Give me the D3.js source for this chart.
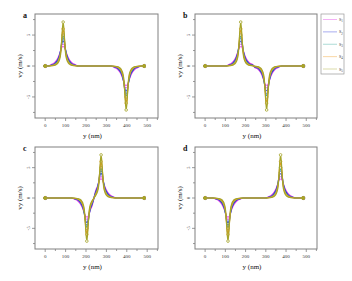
<!DOCTYPE html>
<html>
<head>
<meta charset="utf-8">
<script src="https://cdn.jsdelivr.net/npm/d3@7"></script>
<style>
  body { margin: 0; background: #fff; }
  svg { display: block; }
  text { font-family: "Liberation Serif", "DejaVu Serif", serif; }
</style>
</head>
<body>
<svg id="chart" width="352" height="281"></svg>
<script>
// peak profile: offsets from peak centre (nm) and vy values (m/s) per series
const offsets = [-75, -60, -45, -35, -25, -18, -12, -8, -4, 0, 4, 8, 12, 18, 25, 35, 45, 60, 75];
const s1 = [0, 0.2, 0.45, 0.8, 1.35, 1.9, 2.5, 2.9, 3.2, 3.3, 3.2, 2.9, 2.5, 1.9, 1.35, 0.8, 0.45, 0.2, 0];
const s2 = [0, 0.12, 0.3, 0.6, 1.1, 1.7, 2.6, 3.4, 4.0, 4.2, 4.0, 3.4, 2.6, 1.7, 1.1, 0.6, 0.3, 0.12, 0];
const s3 = [0, 0.08, 0.2, 0.45, 0.9, 1.5, 2.5, 3.6, 4.6, 5.0, 4.6, 3.6, 2.5, 1.5, 0.9, 0.45, 0.2, 0.08, 0];
const s4 = [0, 0.05, 0.14, 0.32, 0.7, 1.3, 2.3, 3.8, 5.3, 6.0, 5.3, 3.8, 2.3, 1.3, 0.7, 0.32, 0.14, 0.05, 0];
const s5 = [0, 0.03, 0.08, 0.2, 0.5, 1.0, 2.0, 3.7, 5.9, 7.1, 5.9, 3.7, 2.0, 1.0, 0.5, 0.2, 0.08, 0.03, 0];
const profiles = [s1, s2, s3, s4, s5];
const seriesNames = ["1", "2", "3", "4", "5"];

// line end points (nm), vy = 0
const baseGrid = [0, 485];

// panels
const panelLabels = ["a", "b", "c", "d"];
const posPeak = [88, 176, 274, 373];
const negPeak = [397, 304, 204, 113];

const xTicks = [0, 100, 200, 300, 400, 500];
const yTicks = [-5, 0, 5];

const colors = ["#e23ce6", "#2530d8", "#2fa596", "#f39a1e", "#a5a52a"];

const svg = d3.select("#chart");
svg.append("rect").attr("width", 352).attr("height", 281).attr("fill", "#fff");

const boxes = [
  {left: 35, top: 14, width: 123, height: 104},
  {left: 195, top: 14, width: 122, height: 104},
  {left: 35, top: 147, width: 123, height: 102},
  {left: 195, top: 147, width: 122, height: 102}
];

function buildSeries(prof, pIdx) {
  const peaks = [{c: posPeak[pIdx], s: 1}, {c: negPeak[pIdx], s: -1}].sort((a, b) => a.c - b.c);
  const gap = peaks[1].c - peaks[0].c;
  let pts = [];
  peaks.forEach((p, k) => {
    offsets.forEach((o, i) => {
      // outer side always kept; inner side stops halfway to the other peak
      const outer = (k === 0 && o <= 0) || (k === 1 && o >= 0);
      if (outer || Math.abs(o) < gap / 2) pts.push({y: p.c + o, v: p.s * prof[i], m: o === 0});
    });
  });
  baseGrid.forEach(g => pts.push({y: g, v: 0, m: true, end: true}));
  pts.sort((a, b) => a.y - b.y);
  return pts;
}

boxes.forEach((b, pIdx) => {
  const x = d3.scaleLinear().domain([-50, 553]).range([b.left, b.left + b.width]);
  const y = d3.scaleLinear().domain([-8.4, 8.4]).range([b.top + b.height, b.top]);
  const g = svg.append("g");

  const line = d3.line().x(d => x(d.y)).y(d => y(d.v)).curve(d3.curveMonotoneX);

  profiles.forEach((prof, sIdx) => {
    const pts = buildSeries(prof, pIdx);
    g.append("path")
      .datum(pts)
      .attr("d", line)
      .attr("fill", "none")
      .attr("stroke", colors[sIdx])
      .attr("stroke-width", 1.2);
    g.selectAll(null)
      .data(pts.filter(d => d.m))
      .enter()
      .append("circle")
      .attr("cx", d => x(d.y))
      .attr("cy", d => y(d.v))
      .attr("r", d => d.end ? 1.5 : 1.3)
      .attr("fill", d => d.end ? colors[sIdx] : "#fff")
      .attr("stroke", colors[sIdx])
      .attr("stroke-width", 0.8);
  });

  // frame
  g.append("rect")
    .attr("x", b.left).attr("y", b.top)
    .attr("width", b.width).attr("height", b.height)
    .attr("fill", "none").attr("stroke", "#808080").attr("stroke-width", 1);

  const bottom = b.top + b.height;
  // x ticks (major + minor)
  d3.range(0, 551, 50).forEach(t => {
    const major = t % 100 === 0;
    g.append("line")
      .attr("x1", x(t)).attr("x2", x(t))
      .attr("y1", bottom).attr("y2", bottom + (major ? 3 : 2))
      .attr("stroke", "#808080").attr("stroke-width", 0.8);
  });
  g.selectAll(null).data(xTicks).enter().append("text")
    .attr("x", d => x(d)).attr("y", bottom + 9)
    .attr("text-anchor", "middle")
    .attr("font-size", 5).attr("fill", "#333")
    .text(d => d);

  // y ticks
  d3.range(-7.5, 7.6, 2.5).forEach(t => {
    const major = t % 5 === 0;
    g.append("line")
      .attr("x1", b.left).attr("x2", b.left - (major ? 3 : 2))
      .attr("y1", y(t)).attr("y2", y(t))
      .attr("stroke", "#808080").attr("stroke-width", 0.8);
  });
  g.selectAll(null).data(yTicks).enter().append("text")
    .attr("transform", d => `translate(${b.left - 5},${y(d)}) rotate(-90)`)
    .attr("text-anchor", "middle")
    .attr("font-size", 5).attr("fill", "#333")
    .text(d => d);

  // axis titles
  g.append("text")
    .attr("x", b.left + b.width / 2 - 4).attr("y", bottom + 20)
    .attr("text-anchor", "middle").attr("font-size", 7).attr("fill", "#111")
    .text("y (nm)");
  g.append("text")
    .attr("transform", `translate(${b.left - 13},${b.top + b.height / 2}) rotate(-90)`)
    .attr("text-anchor", "middle").attr("font-size", 7).attr("fill", "#111")
    .text("vy (m/s)");

  g.append("text")
    .attr("x", b.left - 12).attr("y", b.top + 4)
    .attr("font-size", 8).attr("font-weight", "bold").attr("fill", "#111")
    .text(panelLabels[pIdx]);
});

// legend
const leg = svg.append("g");
leg.append("rect")
  .attr("x", 321).attr("y", 14).attr("width", 23).attr("height", 60)
  .attr("fill", "#fff").attr("stroke", "#999").attr("stroke-width", 0.7);
const legY = d3.scalePoint().domain(seriesNames).range([19.5, 69]);
seriesNames.forEach((n, i) => {
  leg.append("line")
    .attr("x1", 323).attr("x2", 337)
    .attr("y1", legY(n)).attr("y2", legY(n))
    .attr("stroke", colors[i]).attr("stroke-opacity", 0.5).attr("stroke-width", 0.8);
  const t = leg.append("text")
    .attr("x", 339).attr("y", legY(n) + 1.5)
    .attr("font-size", 4).attr("fill", "#333");
  t.append("tspan").text("S");
  t.append("tspan").attr("dy", 1.2).attr("font-size", 3).text(n);
});
</script>
</body>
</html>
